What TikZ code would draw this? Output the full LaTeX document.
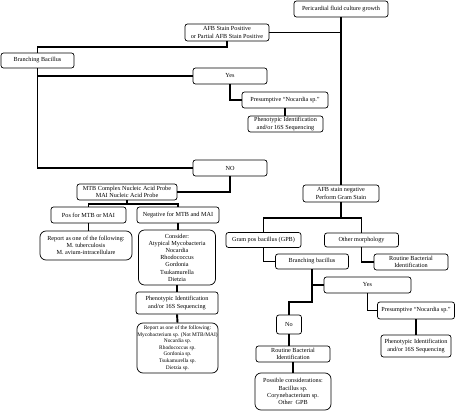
\documentclass[tikz,border=0pt]{standalone}
\usepackage{fontspec}
\setmainfont{Liberation Serif}
\begin{document}
\begin{tikzpicture}[x=1pt,y=-1pt,
  box/.style={draw, line width=0.7pt, rounded corners=2.5pt, fill=white, align=center,
    inner sep=0pt, font=\fontsize{6.2}{7.2}\selectfont},
  bigbox/.style={box, rounded corners=6pt},
  smallfont/.style={font=\fontsize{5.4}{6.6}\selectfont},
  conn/.style={line width=1.9pt}]
\useasboundingbox (0,0) rectangle (457,411);
% left / top part
\node[box, minimum width=94, minimum height=16] (pfc) at (341,9) {Pericardial fluid culture growth};
\node[box, minimum width=84, minimum height=17] (afbpos) at (227,32.5) {AFB Stain Positive\\or Partial AFB Stain Positive};
\node[box, minimum width=73, minimum height=15] (bb) at (37.5,60.5) {Branching Bacillus};
\node[box, minimum width=74, minimum height=16] (yes) at (230,76) {Yes};
\node[box, minimum width=86, minimum height=16] (pres) at (285,100) {Presumptive “Nocardia sp.”};
\node[box, minimum width=75, minimum height=16] (phen) at (285.5,124) {Phenotypic Identification\\and/or 16S Sequencing};
\node[box, minimum width=74, minimum height=16] (no) at (230,168) {NO};
\node[box, minimum width=100, minimum height=16] (mtb) at (127,192) {MTB Complex Nucleic Acid Probe\\MAI Nucleic Acid Probe};
\node[box, minimum width=75, minimum height=16] (pos) at (88.5,215) {Pos for MTB or MAI};
\node[box, minimum width=82, minimum height=16] (neg) at (178,215) {Negative for MTB and MAI};
\node[bigbox, minimum width=92, minimum height=29] (report) at (86,245.5) {Report as one of the following:\\M. tuberculosis\\M. avium-intracellulare};
\node[bigbox, minimum width=77, minimum height=55] (consider) at (177,257.5) {Consider:\\Atypical Mycobacteria\\Nocardia\\Rhodococcus\\Gordonia\\Tsukamurella\\Dietzia};
\node[box, minimum width=82, minimum height=22] (phenb) at (177,303) {Phenotypic Identification\\and/or 16S Sequencing};
\node[bigbox, smallfont, minimum width=81, minimum height=50] (report2) at (177.5,348) {Report as one of the following:\\Mycobacterium sp. (Not MTB/MAI)\\Nocardia sp.\\Rhodococcus sp.\\Gordonia sp.\\Tsukamurella sp.\\Dietzia sp.};
% right part
\node[box, minimum width=76, minimum height=17] (afbneg) at (341,193.5) {AFB stain negative\\Perform Gram Stain};
\node[box, minimum width=75, minimum height=15] (gram) at (263.5,240) {Gram pos bacillus (GPB)};
\node[box, minimum width=74, minimum height=14] (other) at (361.5,240) {Other morphology};
\node[box, minimum width=73, minimum height=15] (brb) at (312,261.5) {Branching bacillus};
\node[box, minimum width=74, minimum height=16] (routine) at (411,262) {Routine Bacterial\\Identification};
\node[box, minimum width=87, minimum height=16] (yesb) at (367.5,285) {Yes};
\node[box, minimum width=25, minimum height=19] (nob) at (289,324.5) {No};
\node[box, minimum width=77, minimum height=17] (presb) at (416,310.5) {Presumptive “Nocardia sp.”};
\node[box, minimum width=70, minimum height=22] (phenc) at (416,346) {Phenotypic Identification\\and/or 16S Sequencing};
\node[box, minimum width=74, minimum height=16] (routineb) at (293,354) {Routine Bacterial\\Identification};
\node[bigbox, minimum width=76, minimum height=37] (possible) at (293,391.5) {Possible considerations:\\Bacillus sp.\\Corynebacterium sp.\\Other~ GPB};
% connectors
\draw[conn] (pfc.south) -- (afbneg.north);
\draw[conn] (afbpos.east) -- (afbpos.east -| pfc.south);
\draw[conn] (afbpos.south) -- ++(0,5.5) -| (bb.north);
\draw[conn] (bb.south) |- (no.west);
\draw[conn] (bb.south |- yes.west) -- (yes.west);
\draw[conn] (yes.south) |- (pres.west);
\draw[conn] (pres.south) -- (pres.south |- phen.north);
\draw[conn] (no.south) |- (mtb.east);
\draw[conn] (mtb.south) -- ++(0,4) coordinate (mtbj);
\draw[conn] (mtbj) -| (pos.north);
\draw[conn] (mtbj) -| (neg.north);
\draw[conn] (pos.south) -- (pos.south |- report.north);
\draw[conn] (neg.south) -- (neg.south |- consider.north);
\draw[conn] (consider.south) -- (phenb.north);
\draw[conn] (phenb.south) -- (report2.north);
\draw[conn] (afbneg.south) -- ++(0,16) coordinate (afbj);
\draw[conn] (afbj) -| (gram.north);
\draw[conn] (afbj) -| (other.north);
\draw[conn] (gram.south) |- (brb.west);
\draw[conn] (other.south) |- (routine.west);
\draw[conn] (brb.south) -- ++(0,33) -| (nob.north);
\draw[conn] (brb.south |- yesb.west) -- (yesb.west);
\draw[conn] (yesb.south) |- (presb.west);
\draw[conn] (presb.south) -- (presb.south |- phenc.north);
\draw[conn] (nob.south) -- (nob.south |- routineb.north);
\draw[conn] (routineb.south) -- (possible.north);
\end{tikzpicture}
\end{document}
